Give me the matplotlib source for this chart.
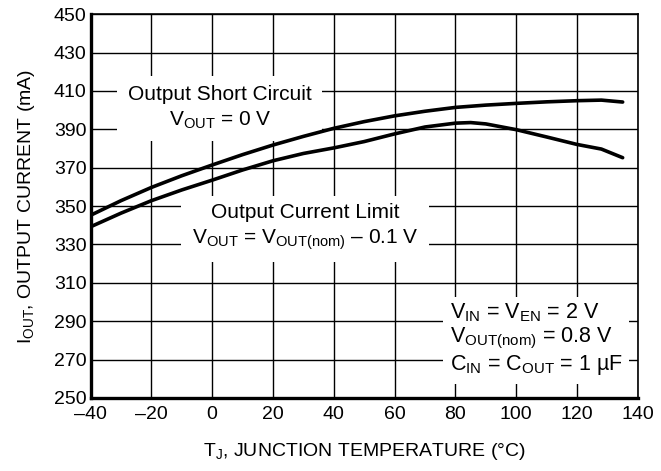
import matplotlib.pyplot as plt

plt.rcParams['font.family'] = ['Liberation Sans', 'DejaVu Sans']
plt.rcParams['mathtext.fontset'] = 'custom'
plt.rcParams['mathtext.rm'] = 'Liberation Sans'
plt.rcParams['mathtext.it'] = 'Liberation Sans'

# junction temperature (°C) and output current (mA)
temp_short = [-40, -30, -20, -10, 0, 10, 20, 30, 40, 50, 60, 70, 80, 90, 100, 110, 120, 128, 135]
i_short = [345.2, 352.8, 359.7, 365.8, 371.4, 376.8, 381.8, 386.3, 390.5, 394.0, 397.0, 399.4,
           401.4, 402.6, 403.5, 404.3, 404.9, 405.2, 404.2]

temp_limit = [-40, -30, -20, -10, 0, 10, 20, 30, 40, 50, 60, 70, 80, 85, 90, 100, 110, 120, 128, 135]
i_limit = [339.2, 346.3, 352.8, 358.4, 363.5, 368.8, 373.6, 377.4, 380.3, 383.6, 387.6, 391.2,
           393.2, 393.5, 392.8, 389.8, 386.0, 382.1, 379.7, 375.2]

xticks = list(range(-40, 141, 20))
yticks = list(range(250, 451, 20))

fig = plt.figure(figsize=(6.61, 4.71), dpi=100)
ax = fig.add_axes([0.137, 0.155, 0.828, 0.815])

ax.plot(temp_short, i_short, color='black', lw=2.6, solid_capstyle='round', zorder=3)
ax.plot(temp_limit, i_limit, color='black', lw=2.6, solid_capstyle='round', zorder=3)

ax.set_xlim(-40, 140)
ax.set_ylim(250, 450)
ax.set_xticks(xticks)
ax.set_yticks(yticks)
ax.set_xticklabels([str(t).replace('-', '\u2013') for t in xticks])
ax.grid(True, color='black', lw=1.0)
ax.set_axisbelow(True)
ax.tick_params(length=0, labelsize=14)
ax.tick_params(axis='x', pad=6)
ax.tick_params(axis='y', pad=3)

for s in ['left', 'bottom']:
    ax.spines[s].set_linewidth(2.4)
for s in ['top', 'right']:
    ax.spines[s].set_linewidth(1.2)

ax.set_xlabel(r'T$_\mathrm{J}$, JUNCTION TEMPERATURE (°C)', fontsize=14, labelpad=13)
ax.set_ylabel(r'I$_\mathrm{OUT}$, OUTPUT CURRENT (mA)', fontsize=14, labelpad=12)

box = dict(facecolor='white', edgecolor='none', boxstyle='square,pad=0.5')

ax.text(2.5, 401.2, 'Output Short Circuit\n' + r'V$_\mathrm{OUT}$ = 0 V',
        ha='center', va='center', fontsize=15, linespacing=1.35, bbox=box, zorder=2)

ax.text(30.5, 339.0, 'Output Current Limit\n' + r'V$_\mathrm{OUT}$ = V$_\mathrm{OUT(nom)}$ ' + '\u2013 0.1 V',
        ha='center', va='center', fontsize=15, linespacing=1.35, bbox=box, zorder=2)

ax.text(78.2, 280.5, r'V$_\mathrm{IN}$ = V$_\mathrm{EN}$ = 2 V' + '\n'
        + r'V$_\mathrm{OUT(nom)}$ = 0.8 V' + '\n'
        + r'C$_\mathrm{IN}$ = C$_\mathrm{OUT}$ = 1 µF',
        ha='left', va='center', fontsize=15.5, linespacing=1.12,
        bbox=dict(facecolor='white', edgecolor='none', boxstyle='square,pad=0.3'), zorder=2)

fig.savefig('out.png', dpi=100)
